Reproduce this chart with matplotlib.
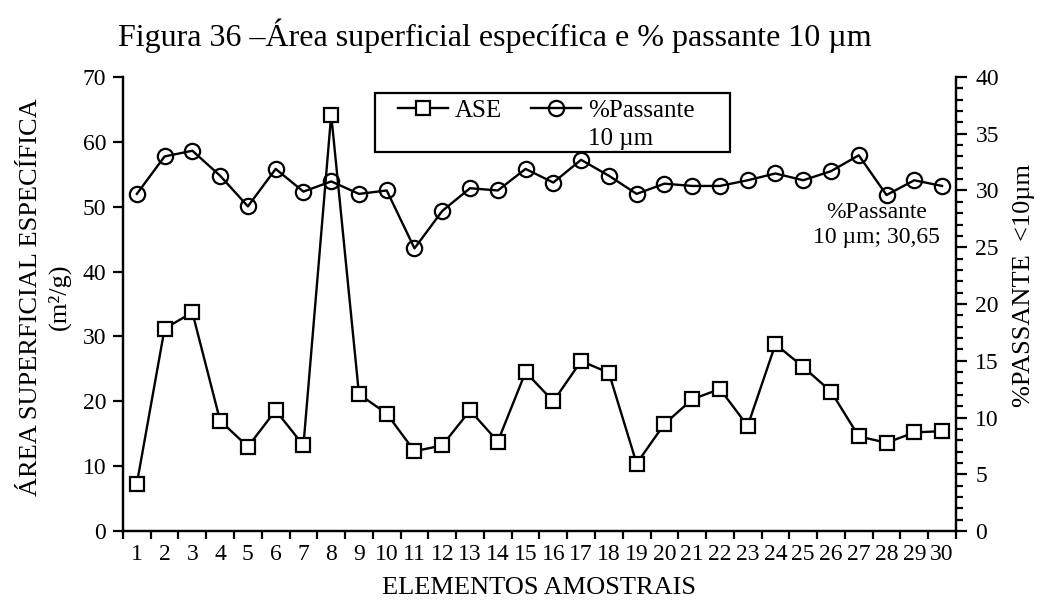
import matplotlib.pyplot as plt
from matplotlib.lines import Line2D
from matplotlib.patches import Rectangle
from matplotlib.ticker import MultipleLocator

plt.rcParams['font.family'] = ['Liberation Serif', 'DejaVu Serif']

# elementos amostrais 1..30
elementos = list(range(1, 31))

# area superficial especifica (m2/g)
ase = [7.3, 31.2, 33.7, 17.0, 13.0, 18.6, 13.2, 64.2, 21.1, 18.1,
       12.3, 13.2, 18.6, 13.8, 24.5, 20.0, 26.2, 24.4, 10.4, 16.5,
       20.3, 21.9, 16.2, 28.8, 25.3, 21.5, 14.6, 13.6, 15.2, 15.4]

# % passante < 10 um
passante = [29.7, 33.0, 33.5, 31.3, 28.6, 31.9, 29.9, 30.8, 29.7, 30.0,
            24.9, 28.2, 30.2, 30.0, 31.9, 30.7, 32.7, 31.3, 29.7, 30.6,
            30.4, 30.4, 30.9, 31.5, 30.9, 31.7, 33.1, 29.6, 30.9, 30.4]

media_passante = 30.65

fig = plt.figure(figsize=(10.42, 6.08), dpi=100)
ax = fig.add_axes([0.118, 0.1266, 0.7994, 0.7468])
ax2 = ax.twinx()

l1, = ax.plot(elementos, ase, color='black', lw=1.7, marker='s', ms=10,
              mfc='white', mec='black', mew=1.6)
l2, = ax2.plot(elementos, passante, color='black', lw=1.7, marker='o', ms=11,
               mfc='none', mec='black', mew=1.6)

ax.set_xlim(0.5, 30.5)
ax.set_ylim(0, 70)
ax2.set_ylim(0, 40)

ax.set_xticks(elementos)
ax.set_xticks([i + 0.5 for i in range(0, 31)], minor=True)
ax.tick_params(axis='x', which='major', length=0, pad=9, labelsize=17)
ax.tick_params(axis='x', which='minor', length=6, width=1.6, direction='out')

ax.yaxis.set_major_locator(MultipleLocator(10))
ax.tick_params(axis='y', which='major', length=7, width=1.6, labelsize=17, pad=5)

ax2.yaxis.set_major_locator(MultipleLocator(5))
ax2.yaxis.set_minor_locator(MultipleLocator(1))
ax2.tick_params(axis='y', which='major', length=8, width=1.6, labelsize=17, pad=6)
ax2.tick_params(axis='y', which='minor', length=5, width=1.6)

for a in (ax, ax2):
    a.spines['top'].set_visible(False)
    for s in ('left', 'right', 'bottom'):
        a.spines[s].set_linewidth(1.6)

ax.set_xlabel('ELEMENTOS AMOSTRAIS', fontsize=19)
ax.xaxis.set_label_coords(0.5, -0.102)
ax.set_ylabel('ÁREA SUPERFICIAL ESPECÍFICA\n(m²/g)', fontsize=19,
              linespacing=1.3)
ax.yaxis.set_label_coords(-0.062, 0.515)
ax2.set_ylabel('%PASSANTE  <10µm', fontsize=19)
ax2.yaxis.set_label_coords(1.068, 0.54)

media_txt = str(media_passante).replace('.', ',')
ax2.text(27.65, 29.0, '%Passante\n10 µm; ' + media_txt,
         ha='center', va='top', fontsize=17, linespacing=1.25)

# legenda: segunda coluna com o rotulo em duas linhas
vazio = Line2D([], [], color='none')
leg = fig.legend(handles=[l1, vazio, l2, vazio],
                 labels=['ASE', '', '%Passante', '10 µm'],
                 loc='upper left', bbox_to_anchor=(0.382, 0.837),
                 borderaxespad=0, ncol=2, fontsize=18, frameon=False,
                 handlelength=2.0, handletextpad=0.25, columnspacing=1.2,
                 borderpad=0, labelspacing=0.25)
# moldura da legenda, mais larga que o conteudo
fig.patches.append(Rectangle((0.36, 0.75), 0.3407, 0.097, transform=fig.transFigure,
                             fill=False, edgecolor='black', lw=1.6))

fig.text(0.475, 0.942, 'Figura 36 –Área superficial específica e % passante 10 µm',
         ha='center', va='center', fontsize=23)

fig.savefig('out.png', dpi=100)
